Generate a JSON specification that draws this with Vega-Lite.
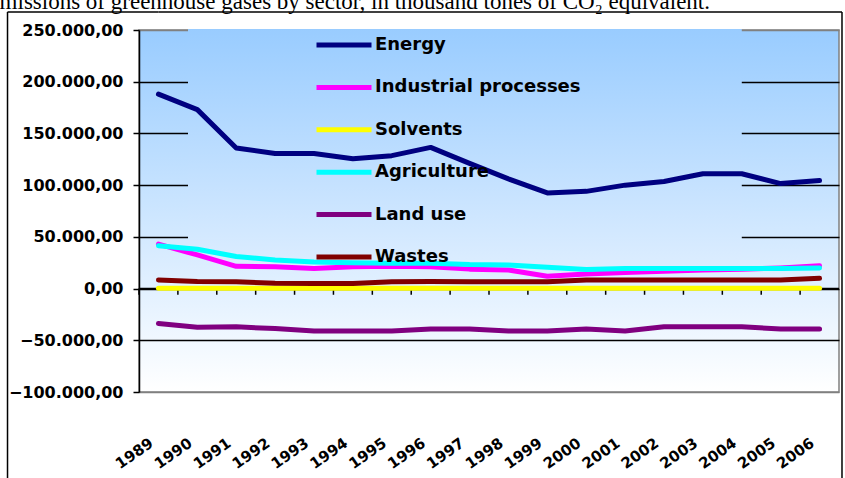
{
  "$schema": "https://vega.github.io/schema/vega-lite/v6.json",
  "width": 700,
  "height": 362,
  "autosize": "none",
  "padding": {"left": 139, "top": 30, "right": 6, "bottom": 86},
  "background": "white",
  "title": {
    "text": "Emissions of greenhouse gases by sector, in thousand tones of CO₂ equivalent.",
    "anchor": "end",
    "frame": "group",
    "font": "Liberation Serif",
    "fontSize": 23,
    "fontWeight": "normal",
    "color": "black",
    "baseline": "alphabetic",
    "dx": -129,
    "dy": 23,
    "offset": 0
  },
  "config": {
    "locale": {"number": {"decimal": ",", "thousands": ".", "grouping": [3], "currency": ["", " €"]}},
    "view": {
      "fill": {"gradient": "linear", "x1": 0, "y1": 0, "x2": 0, "y2": 1, "stops": [{"offset": 0, "color": "#99CCFF"}, {"offset": 1, "color": "#FFFFFF"}]},
      "stroke": "#808080",
      "strokeWidth": 1.5
    },
    "font": "DejaVu Sans"
  },
  "data": {
    "values": [
      {"year": "1989", "series": "Energy", "value": 188000},
      {"year": "1990", "series": "Energy", "value": 173000},
      {"year": "1991", "series": "Energy", "value": 136000},
      {"year": "1992", "series": "Energy", "value": 130500},
      {"year": "1993", "series": "Energy", "value": 130500},
      {"year": "1994", "series": "Energy", "value": 125500},
      {"year": "1995", "series": "Energy", "value": 128500},
      {"year": "1996", "series": "Energy", "value": 136500},
      {"year": "1997", "series": "Energy", "value": 121000},
      {"year": "1998", "series": "Energy", "value": 106000},
      {"year": "1999", "series": "Energy", "value": 92500},
      {"year": "2000", "series": "Energy", "value": 94000},
      {"year": "2001", "series": "Energy", "value": 100000},
      {"year": "2002", "series": "Energy", "value": 103500},
      {"year": "2003", "series": "Energy", "value": 111000},
      {"year": "2004", "series": "Energy", "value": 111000},
      {"year": "2005", "series": "Energy", "value": 101500},
      {"year": "2006", "series": "Energy", "value": 104500},
      {"year": "1989", "series": "Industrial processes", "value": 43000},
      {"year": "1990", "series": "Industrial processes", "value": 32500},
      {"year": "1991", "series": "Industrial processes", "value": 21500},
      {"year": "1992", "series": "Industrial processes", "value": 21000},
      {"year": "1993", "series": "Industrial processes", "value": 19500},
      {"year": "1994", "series": "Industrial processes", "value": 21000},
      {"year": "1995", "series": "Industrial processes", "value": 21500},
      {"year": "1996", "series": "Industrial processes", "value": 21000},
      {"year": "1997", "series": "Industrial processes", "value": 18800},
      {"year": "1998", "series": "Industrial processes", "value": 18000},
      {"year": "1999", "series": "Industrial processes", "value": 12000},
      {"year": "2000", "series": "Industrial processes", "value": 14000},
      {"year": "2001", "series": "Industrial processes", "value": 15500},
      {"year": "2002", "series": "Industrial processes", "value": 16700},
      {"year": "2003", "series": "Industrial processes", "value": 18000},
      {"year": "2004", "series": "Industrial processes", "value": 18800},
      {"year": "2005", "series": "Industrial processes", "value": 20000},
      {"year": "2006", "series": "Industrial processes", "value": 22000},
      {"year": "1989", "series": "Solvents", "value": 300},
      {"year": "1990", "series": "Solvents", "value": 300},
      {"year": "1991", "series": "Solvents", "value": 300},
      {"year": "1992", "series": "Solvents", "value": 300},
      {"year": "1993", "series": "Solvents", "value": 300},
      {"year": "1994", "series": "Solvents", "value": 300},
      {"year": "1995", "series": "Solvents", "value": 300},
      {"year": "1996", "series": "Solvents", "value": 300},
      {"year": "1997", "series": "Solvents", "value": 300},
      {"year": "1998", "series": "Solvents", "value": 300},
      {"year": "1999", "series": "Solvents", "value": 300},
      {"year": "2000", "series": "Solvents", "value": 300},
      {"year": "2001", "series": "Solvents", "value": 300},
      {"year": "2002", "series": "Solvents", "value": 300},
      {"year": "2003", "series": "Solvents", "value": 300},
      {"year": "2004", "series": "Solvents", "value": 300},
      {"year": "2005", "series": "Solvents", "value": 300},
      {"year": "2006", "series": "Solvents", "value": 300},
      {"year": "1989", "series": "Agriculture", "value": 41500},
      {"year": "1990", "series": "Agriculture", "value": 38000},
      {"year": "1991", "series": "Agriculture", "value": 31000},
      {"year": "1992", "series": "Agriculture", "value": 27700},
      {"year": "1993", "series": "Agriculture", "value": 25700},
      {"year": "1994", "series": "Agriculture", "value": 25000},
      {"year": "1995", "series": "Agriculture", "value": 24500},
      {"year": "1996", "series": "Agriculture", "value": 24500},
      {"year": "1997", "series": "Agriculture", "value": 23200},
      {"year": "1998", "series": "Agriculture", "value": 22800},
      {"year": "1999", "series": "Agriculture", "value": 20600},
      {"year": "2000", "series": "Agriculture", "value": 18500},
      {"year": "2001", "series": "Agriculture", "value": 19300},
      {"year": "2002", "series": "Agriculture", "value": 19300},
      {"year": "2003", "series": "Agriculture", "value": 19500},
      {"year": "2004", "series": "Agriculture", "value": 19500},
      {"year": "2005", "series": "Agriculture", "value": 19500},
      {"year": "2006", "series": "Agriculture", "value": 19900},
      {"year": "1989", "series": "Land use", "value": -33800},
      {"year": "1990", "series": "Land use", "value": -37500},
      {"year": "1991", "series": "Land use", "value": -37000},
      {"year": "1992", "series": "Land use", "value": -38700},
      {"year": "1993", "series": "Land use", "value": -41000},
      {"year": "1994", "series": "Land use", "value": -41000},
      {"year": "1995", "series": "Land use", "value": -41000},
      {"year": "1996", "series": "Land use", "value": -39000},
      {"year": "1997", "series": "Land use", "value": -39000},
      {"year": "1998", "series": "Land use", "value": -41000},
      {"year": "1999", "series": "Land use", "value": -41000},
      {"year": "2000", "series": "Land use", "value": -39000},
      {"year": "2001", "series": "Land use", "value": -41000},
      {"year": "2002", "series": "Land use", "value": -37000},
      {"year": "2003", "series": "Land use", "value": -37000},
      {"year": "2004", "series": "Land use", "value": -37000},
      {"year": "2005", "series": "Land use", "value": -39000},
      {"year": "2006", "series": "Land use", "value": -39000},
      {"year": "1989", "series": "Wastes", "value": 8300},
      {"year": "1990", "series": "Wastes", "value": 6800},
      {"year": "1991", "series": "Wastes", "value": 6600},
      {"year": "1992", "series": "Wastes", "value": 5200},
      {"year": "1993", "series": "Wastes", "value": 5000},
      {"year": "1994", "series": "Wastes", "value": 5000},
      {"year": "1995", "series": "Wastes", "value": 6600},
      {"year": "1996", "series": "Wastes", "value": 6800},
      {"year": "1997", "series": "Wastes", "value": 6700},
      {"year": "1998", "series": "Wastes", "value": 6600},
      {"year": "1999", "series": "Wastes", "value": 6600},
      {"year": "2000", "series": "Wastes", "value": 8300},
      {"year": "2001", "series": "Wastes", "value": 8300},
      {"year": "2002", "series": "Wastes", "value": 8300},
      {"year": "2003", "series": "Wastes", "value": 8300},
      {"year": "2004", "series": "Wastes", "value": 8300},
      {"year": "2005", "series": "Wastes", "value": 8400},
      {"year": "2006", "series": "Wastes", "value": 9900}
    ]
  },
  "encoding": {
    "x": {
      "field": "year", "type": "ordinal", "bandPosition": 0.5,
      "scale": {"type": "band", "paddingInner": 0, "paddingOuter": 0},
      "axis": {
        "title": null, "ticks": false, "domain": false, "grid": false,
        "labelAngle": -35, "labelAlign": "right", "labelBaseline": "middle",
        "labelPadding": 49, "labelOffset": -7,
        "labelFont": "DejaVu Sans", "labelFontWeight": "bold", "labelFontSize": 15, "labelColor": "black"
      }
    }
  },
  "layer": [
    {
      "transform": [{"filter": "datum.series === 'Energy' && datum.year === '1989'"}],
      "mark": {
        "type": "rect",
        "fill": {"gradient": "linear", "x1": 0, "y1": 0, "x2": 0, "y2": 1, "stops": [{"offset": 0, "color": "#99CCFF"}, {"offset": 1, "color": "#DEEEFF"}]}
      },
      "encoding": {
        "x": {"datum": "1990", "type": "ordinal", "bandPosition": 0.26},
        "x2": {"datum": "2004"},
        "y": {"datum": 251000, "type": "quantitative", "scale": {"domain": [-100000, 250000], "nice": false}},
        "y2": {"datum": 15000}
      }
    },
    {
      "transform": [{"filter": "datum.series === 'Energy'"}],
      "mark": {"type": "rule", "color": "black", "strokeWidth": 1.5},
      "encoding": {
        "x": {"field": "year", "type": "ordinal", "bandPosition": 0},
        "y": {"datum": 0, "type": "quantitative"},
        "y2": {"datum": -6000}
      }
    },
    {
      "transform": [{"filter": "datum.series === 'Energy' && datum.year === '1989'"}],
      "mark": {"type": "rule", "color": "black", "strokeWidth": 1.5},
      "encoding": {
        "x": null,
        "y": {"datum": 0, "type": "quantitative"}
      }
    },
    {
      "transform": [{"filter": "datum.series === 'Energy' && datum.year === '1989'"}],
      "mark": {"type": "rule", "color": "black", "strokeWidth": 1.5},
      "encoding": {
        "x": {"datum": "1989", "type": "ordinal", "bandPosition": -3.381},
        "y": {"datum": 267400, "type": "quantitative"},
        "y2": {"datum": -200000}
      }
    },
    {
      "transform": [{"filter": "datum.series === 'Energy' && datum.year === '1989'"}],
      "mark": {"type": "rule", "color": "black", "strokeWidth": 1.5},
      "encoding": {
        "x": {"datum": "2006", "type": "ordinal", "bandPosition": 1.077},
        "y": {"datum": 267400, "type": "quantitative"},
        "y2": {"datum": -200000}
      }
    },
    {
      "transform": [{"filter": "datum.series === 'Energy' && datum.year === '1989'"}],
      "mark": {"type": "rule", "color": "black", "strokeWidth": 1.5},
      "encoding": {
        "x": {"datum": "1989", "type": "ordinal", "bandPosition": -3.381},
        "x2": {"datum": "1989"},
        "y": {"datum": 267400, "type": "quantitative"}
      }
    },
    {
      "transform": [{"filter": "datum.series === 'Energy' && datum.year === '1989'"}],
      "mark": {"type": "rule", "color": "black", "strokeWidth": 1.5},
      "encoding": {
        "x": {"datum": "2006", "type": "ordinal", "bandPosition": 1.077},
        "x2": {"datum": "1989"},
        "y": {"datum": 267400, "type": "quantitative"}
      }
    },
    {
      "mark": {"type": "line", "strokeWidth": 5, "strokeCap": "round", "strokeJoin": "round"},
      "encoding": {
        "y": {
          "field": "value", "type": "quantitative",
          "scale": {"domain": [-100000, 250000], "nice": false},
          "axis": {
            "title": null,
            "values": [-100000, -50000, 0, 50000, 100000, 150000, 200000, 250000],
            "format": ",.2f",
            "labelFont": "DejaVu Sans", "labelFontWeight": "bold", "labelFontSize": 16, "labelColor": "black",
            "labelPadding": 10,
            "tickSize": 6, "tickColor": "black", "tickWidth": 1.5,
            "domainColor": "black", "domainWidth": 1.5,
            "grid": true,
            "gridColor": {"condition": {"test": "datum.value === 250000 || datum.value === -100000", "value": "#808080"}, "value": "black"},
            "gridWidth": 1.5
          }
        },
        "color": {
          "field": "series", "type": "nominal",
          "scale": {
            "domain": ["Energy", "Industrial processes", "Solvents", "Agriculture", "Land use", "Wastes"],
            "range": ["#000080", "#FF00FF", "#FFFF00", "#00FFFF", "#800080", "#800000"]
          },
          "legend": {
            "orient": "none", "legendX": 49, "legendY": -21,
            "title": null,
            "symbolType": "stroke", "symbolStrokeWidth": 5, "symbolSize": 3025,
            "labelFont": "DejaVu Sans", "labelFontWeight": "bold", "labelFontSize": 18, "labelColor": "black",
            "labelLimit": 400,
            "padding": 6, "rowPadding": 2.4,
            "symbolOffset": 120, "labelOffset": 1
          }
        }
      }
    }
  ]
}
